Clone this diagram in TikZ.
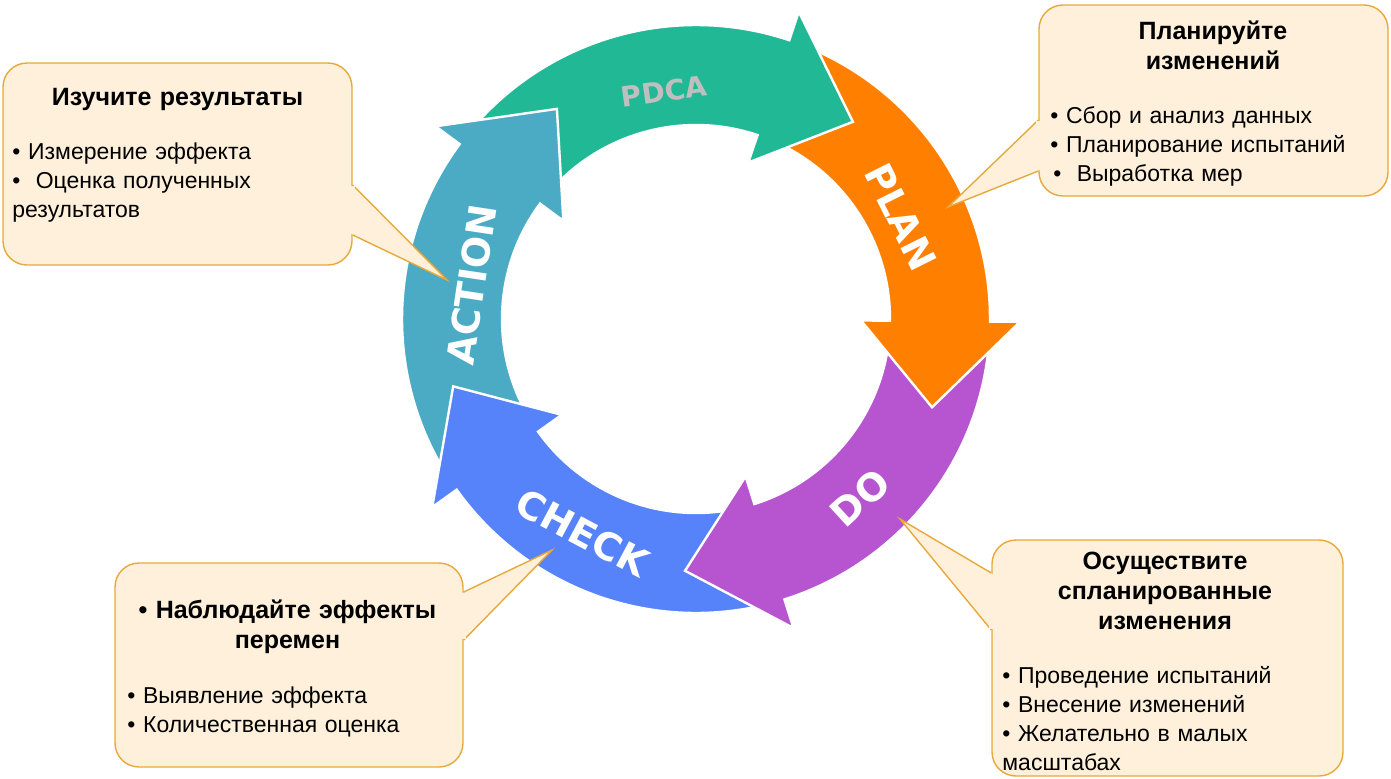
\documentclass[tikz,border=0pt]{standalone}
\usepackage{fontspec}
\setmainfont{Liberation Sans}
\newfontfamily\ringfont{DejaVu Sans}

\definecolor{pdcateal}{HTML}{21B995}
\definecolor{planorange}{HTML}{FF8000}
\definecolor{dopurple}{HTML}{B755D0}
\definecolor{checkblue}{HTML}{5683FA}
\definecolor{actionblue}{HTML}{4BAAC4}
\definecolor{boxfill}{HTML}{FEF0DA}
\definecolor{boxline}{HTML}{E6A93A}

\begin{document}
\begin{tikzpicture}[x=0.5pt, y=0.5pt,
        ring/.style={draw=white, line width=1.2pt, line join=miter},
        ringarrow/.pic={
            \path[ring, pic actions] (139.5:194) -- (139.5:294) arc[start angle=139.5, end angle=71.5, radius=294]
                -- (71.5:324) -- (51.5:252) -- (71.5:165) -- (71.5:194)
                arc[start angle=71.5, end angle=139.5, radius=194] -- cycle;
        },
        ringlabel/.style={font=\ringfont\bfseries\fontsize{19}{19}\selectfont, text=white, inner sep=0pt},
        callbox/.style={draw=boxline, fill=boxfill, line width=0.7pt, rounded corners=12pt},
        callpin/.style={draw=boxline, fill=boxfill, line width=0.7pt, line join=miter},
        boxtitle/.style={font=\bfseries\fontsize{12.5}{15}\selectfont, align=center, text width=170pt, inner sep=0pt, anchor=base},
        boxlist/.style={font=\fontsize{11.5}{14.5}\selectfont, align=left, text width=170pt, inner sep=0pt, anchor=base west}
    ]
        \useasboundingbox (0,0) rectangle (1391,-778);

        % the cycle, each head lies over the next tail
        \begin{scope}[shift={(696,-319)}]
            \pic[fill=actionblue, rotate=-288] {ringarrow};
            \pic[fill=checkblue, rotate=-216] {ringarrow};
            \pic[fill=dopurple, rotate=-144] {ringarrow};
            \pic[fill=planorange, rotate=-72] {ringarrow};
            \pic[fill=pdcateal] {ringarrow};
            % ACTION head again, over the PDCA tail
            \begin{scope}
                \clip (0,0) -- (116:400) arc[start angle=116, end angle=148, radius=400] -- cycle;
                \pic[fill=actionblue, rotate=-288] {ringarrow};
            \end{scope}

            \node[ringlabel, font=\ringfont\bfseries\fontsize{14}{14}\selectfont, text=black!25, rotate=8] (pdca) at (98:230) {PDCA};
            \node[ringlabel, rotate=-63.5] (plan) at (26.5:229) {PLAN};
            \node[ringlabel, rotate=42.5] (do) at (-47.5:243) {DO};
            \node[ringlabel, rotate=-28] (check) at (-118:242) {CHECK};
            \node[ringlabel, rotate=81.4] (action) at (171.4:227) {ACTION};
        \end{scope}

        \coordinate (studytip) at (447,-280);
        \coordinate (plantip) at (948,-207);
        \coordinate (watchtip) at (552,-550);
        \coordinate (dotip) at (900,-519);

        % ACTION callout
        \node[callbox, minimum width=174.5pt, minimum height=101pt] (studybox) at (177.5,-164) {};
        \filldraw[callpin] ([yshift=-10.5pt]studybox.east) -- (studytip) -- ([yshift=-35.5pt]studybox.east);
        \fill[boxfill] ([xshift=-1pt, yshift=-11pt]studybox.east) rectangle ([xshift=1pt, yshift=-35pt]studybox.east);
        \node[boxtitle] (studytitle) at (177.5,-105) {Изучите результаты};
        \node[boxlist] (studylist) at (12,-159) {• Измерение эффекта\\• \ Оценка полученных\\результатов};

        % PLAN callout
        \node[callbox, minimum width=174.5pt, minimum height=95.5pt] (planbox) at (1213.5,-100.5) {};
        \filldraw[callpin] ([yshift=-9.75pt]planbox.west) -- (plantip) -- ([yshift=-35.25pt]planbox.west);
        \fill[boxfill] ([xshift=-1pt, yshift=-10.25pt]planbox.west) rectangle ([xshift=1pt, yshift=-34.75pt]planbox.west);
        \node[boxtitle] (plantitle) at (1213,-39) {Планируйте\\изменений};
        \node[boxlist] (planlist) at (1050,-123) {• Сбор и анализ данных\\• Планирование испытаний\\\hspace*{1.5pt}• \ Выработка мер};

        % CHECK callout
        \node[callbox, minimum width=174pt, minimum height=102pt] (watchbox) at (289,-665) {};
        \filldraw[callpin] ([yshift=36.5pt]watchbox.east) -- (watchtip) -- ([yshift=12.5pt]watchbox.east);
        \fill[boxfill] ([xshift=-1pt, yshift=36pt]watchbox.east) rectangle ([xshift=1pt, yshift=13pt]watchbox.east);
        \node[boxtitle] (watchtitle) at (287.5,-618) {• Наблюдайте эффекты\\перемен};
        \node[boxlist] (watchlist) at (127,-703) {• Выявление эффекта\\• Количественная оценка};

        % DO callout
        \node[callbox, minimum width=175.5pt, minimum height=118pt] (dobox) at (1167.5,-658) {};
        \filldraw[callpin] ([yshift=42.5pt]dobox.west) -- (dotip) -- ([yshift=14pt]dobox.west);
        \fill[boxfill] ([xshift=-1pt, yshift=42pt]dobox.west) rectangle ([xshift=1pt, yshift=14.5pt]dobox.west);
        \node[boxtitle] (dotitle) at (1165,-569) {Осуществите\\спланированные\\изменения};
        \node[boxlist] (dolist) at (1002,-683) {• Проведение испытаний\\• Внесение изменений\\• Желательно в малых\\масштабах};
    \end{tikzpicture}
\end{document}
